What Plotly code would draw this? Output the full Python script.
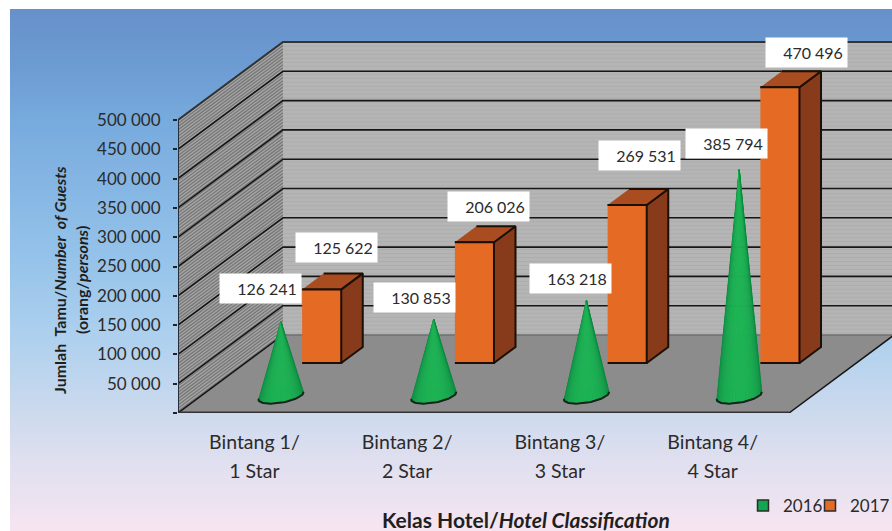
import numpy as np
import plotly.graph_objects as go

# ---------- data ----------
categories_id = ["Bintang 1/", "Bintang 2/", "Bintang 3/", "Bintang 4/"]
categories_en = ["1 Star", "2 Star", "3 Star", "4 Star"]
values_2016 = [126241, 130853, 163218, 385794]
values_2017 = [125622, 206026, 269531, 470496]
y_ticks = [0, 50000, 100000, 150000, 200000, 250000, 300000, 350000, 400000, 450000, 500000]
y_tick_labels = ["", "50 000", "100 000", "150 000", "200 000", "250 000", "300 000",
                 "350 000", "400 000", "450 000", "500 000"]

# ---------- geometry of the oblique view ----------
W, H = 892, 531
ML, MT, MB = 178, 10, 118
PX_CAT = 152.75
PX_VAL = 29.3 / 50000
DX = 105 / PX_CAT          # x shift (category units) of the full floor depth
DY = 78 / PX_VAL           # y shift (value units) of the full floor depth
Y_MAX = (H - MT - MB) / PX_VAL
X_MIN, X_MAX = -0.5, -0.5 + (W - ML) / PX_CAT
FONT = "Lato"
TXT = "#2b2b2b"


def P(c, v, d):
    return c + d * DX, v + d * DY


def poly(points):
    xs, ys = [], []
    for c, v, d in points:
        x, y = P(c, v, d)
        xs.append(x)
        ys.append(y)
    return xs, ys


def multi(polys):
    xs, ys = [], []
    for p in polys:
        x, y = poly(p)
        xs += x + [None]
        ys += y + [None]
    return xs, ys


fig = go.Figure()


def fill(polys, color, line_color=None, line_width=0):
    x, y = multi(polys)
    fig.add_trace(go.Scatter(x=x, y=y, mode="lines", fill="toself", fillcolor=color,
                             line=dict(color=line_color or color, width=line_width),
                             hoverinfo="skip", showlegend=False))


def lines(polys, color, width):
    x, y = multi(polys)
    fig.add_trace(go.Scatter(x=x, y=y, mode="lines", line=dict(color=color, width=width),
                             hoverinfo="skip", showlegend=False))


L, R, TOP = -0.5, 3.5, y_ticks[-1]

# walls and floor
fill([[(L, 0, 0), (L, 0, 1), (L, TOP, 1), (L, TOP, 0)]], "#a6a6a6")
lines([[(L, s, 0), (L, s, 1)] for s in np.arange(2700, TOP, 5460)], "#777777", 1.3)

fill([[(L, 0, 1), (R, 0, 1), (R, TOP, 1), (L, TOP, 1)]], "#b5b5b5")
lines([[(L, v, 1), (R, v, 1)] for v in np.arange(3000, TOP, 6800)], "#adadad", 1)

fill([[(L, 0, 0), (R, 0, 0), (R, 0, 1), (L, 0, 1)]], "#8c8c8c")
lines([[(L, 0, 1), (R, 0, 1)]], "#6f6f6f", 1.5)

# gridlines
for v in y_ticks[1:]:
    lines([[(L, v, 0), (L, v, 1), (R, v, 1)]], "#333333" if v == TOP else "#161616", 2 if v == TOP else 1.6)
lines([[(L, 0, 0), (L, 0, 1)]], "#161616", 1.5)
lines([[(R, 0, 0), (R, 0, 1)]], "#161616", 1.5)
lines([[(L, 0, 0), (R, 0, 0)]], "#333333", 3)
lines([[(L, 0, 0), (L, TOP, 0)]], "#26303c", 2)

# bars (2017)
BAR_HALF = 0.128
BAR_OFF = 0.0
D0, D1 = 0.641, 0.846
OUT = "#1c1006"
fill([[(i + BAR_OFF + BAR_HALF, 0, D0), (i + BAR_OFF + BAR_HALF, 0, D1),
       (i + BAR_OFF + BAR_HALF, v, D1), (i + BAR_OFF + BAR_HALF, v, D0)]
      for i, v in enumerate(values_2017)], "#873B1B", OUT, 2)
fill([[(i + BAR_OFF - BAR_HALF, v, D0), (i + BAR_OFF + BAR_HALF, v, D0),
       (i + BAR_OFF + BAR_HALF, v, D1), (i + BAR_OFF - BAR_HALF, v, D1)]
      for i, v in enumerate(values_2017)], "#A94D20", OUT, 2)
fill([[(i + BAR_OFF - BAR_HALF, 0, D0), (i + BAR_OFF + BAR_HALF, 0, D0),
       (i + BAR_OFF + BAR_HALF, v, D0), (i + BAR_OFF - BAR_HALF, v, D0)]
      for i, v in enumerate(values_2017)], "#E56A24", OUT, 2)

# cones (2016)
CD = 0.22
C_OFF = 0.023
CR, CDR = 0.131, 0.10
t_full = np.linspace(0, 2 * np.pi, 61)


def base_pt(i, t):
    return (i + C_OFF + CR * np.cos(t), 0, CD + CDR * np.sin(t))


fill([[base_pt(i, t) for t in t_full] for i in range(4)], "#0b7d3c", "#14201a", 1)
N = 22
t0 = np.radians(207)
edges = t0 + np.linspace(0, np.pi, N + 1)
dark, bright = np.array([10, 132, 62]), np.array([30, 180, 85])
for k in range(N):
    f = np.sin(np.pi * (k + 0.5) / N) ** 0.8
    col = dark + (bright - dark) * f
    color = "rgb(%d,%d,%d)" % tuple(col)
    tris = [[base_pt(i, edges[k]), base_pt(i, edges[k + 1]), (i + C_OFF, v, CD)] for i, v in enumerate(values_2016)]
    fill(tris, color, color, 1)
lines([[base_pt(i, t) for t in np.linspace(t0 - 0.05, t0 + np.pi + 0.05, 40)] for i in range(4)], "#14261c", 2)

# legend entries
fig.add_trace(go.Scatter(x=[None], y=[None], mode="markers", name="2016", legend="legend",
                         marker=dict(symbol="square", size=11, color="#11A650", line=dict(color="#2b2b2b", width=1.5))))
fig.add_trace(go.Scatter(x=[None], y=[None], mode="markers", name="2017", legend="legend2",
                         marker=dict(symbol="square", size=11, color="#E56A24", line=dict(color="#2b2b2b", width=1.5))))
# carrier for the second line of category labels
fig.add_trace(go.Scatter(x=[None], y=[None], xaxis="x2", yaxis="y", hoverinfo="skip", showlegend=False))

# value labels
ann = []
cone_shift = [(-19.5, 33.5), (-18.5, 21.5), (-14.5, 21.5), (-11.5, 26.5)]
bar_shift = [(35.5, 42), (34.5, 36), (32.5, 50), (47.5, 35)]


def fmt(v):
    s = str(v)
    return s[:-3] + " " + s[-3:]


for i, v in enumerate(values_2016):
    x, y = P(i + C_OFF, v, CD)
    ann.append(dict(x=x, y=y, text=fmt(v) + "&nbsp;", xshift=cone_shift[i][0] - 1, yshift=cone_shift[i][1]))
for i, v in enumerate(values_2017):
    x, y = P(i - BAR_HALF, v, D0)
    ann.append(dict(x=x, y=y, text=fmt(v) + "&nbsp;", xshift=bar_shift[i][0] - 1, yshift=bar_shift[i][1]))
for a in ann:
    a.update(xref="x", yref="y", showarrow=False, bgcolor="white", width=81, height=29, align="right",
             borderpad=0, font=dict(family=FONT, size=16, color=TXT))

plot_w, plot_h = W - ML, H - MT - MB
px = lambda p: (p - ML) / plot_w
py = lambda p: (H - MB - p) / plot_h

ann.append(dict(xref="paper", yref="paper", x=px(526), y=py(519), showarrow=False, xanchor="center", yanchor="middle",
                text="<b>Kelas Hotel/<i>Hotel Classification</i></b>", font=dict(family=FONT, size=21, color="#1f1f1f")))
ann.append(dict(xref="paper", yref="paper", x=px(59), y=py(280), showarrow=False, textangle=-90,
                xanchor="center", yanchor="middle",
                text="<b>Jumlah  Tamu/<i>Number  of Guests</i></b>", font=dict(family=FONT, size=16, color="#1f1f1f")))
ann.append(dict(xref="paper", yref="paper", x=px(81), y=py(280), showarrow=False, textangle=-90,
                xanchor="center", yanchor="middle",
                text="<b>(orang/<i>persons</i>)</b>", font=dict(family=FONT, size=16, color="#1f1f1f")))

# page background gradient
stops_y = [9, 60, 120, 250, 330, 400, 460, 531]
stops_r = [104, 108, 120, 148, 172, 200, 224, 248]
stops_g = [145, 155, 171, 194, 208, 217, 224, 230]
stops_b = [203, 210, 222, 234, 238, 238, 240, 240]
shapes = [dict(type="rect", xref="paper", yref="paper", layer="below", line=dict(width=0),
               x0=px(10), x1=1, y0=py(p + 3), y1=py(p),
               fillcolor="rgb(%d,%d,%d)" % (np.interp(p, stops_y, stops_r), np.interp(p, stops_y, stops_g),
                                            np.interp(p, stops_y, stops_b)))
          for p in range(9, 531, 3)]

legend_common = dict(xref="paper", yref="paper", xanchor="left", y=py(506), yanchor="middle",
                     bgcolor="rgba(0,0,0,0)", font=dict(family=FONT, size=17, color=TXT), itemwidth=30)

fig.update_layout(
    width=W, height=H, margin=dict(l=ML, r=0, t=MT, b=MB, pad=0, autoexpand=False),
    paper_bgcolor="white", plot_bgcolor="rgba(0,0,0,0)",
    shapes=shapes, annotations=ann,
    font=dict(family=FONT, color=TXT),
    legend=dict(x=px(743), **legend_common),
    legend2=dict(x=px(810), **legend_common),
    xaxis=dict(range=[X_MIN, X_MAX], tickmode="array", tickvals=[0, 1, 2, 3], ticktext=categories_id,
               showgrid=False, zeroline=False, showline=False, ticks="", ticklabelstandoff=15,
               tickfont=dict(family=FONT, size=19.5, color=TXT)),
    xaxis2=dict(range=[X_MIN, X_MAX], overlaying="x", anchor="y", side="bottom", tickmode="array",
                tickvals=[0, 1, 2, 3], ticktext=categories_en,
                showgrid=False, zeroline=False, showline=False, ticks="", ticklabelstandoff=44,
                tickfont=dict(family=FONT, size=19.5, color=TXT)),
    yaxis=dict(range=[0, Y_MAX], tickmode="array", tickvals=y_ticks, ticktext=y_tick_labels,
               showgrid=False, zeroline=False, showline=False, ticks="outside", ticklen=4, tickwidth=2,
               tickcolor="#222222", ticklabelstandoff=9, tickfont=dict(family=FONT, size=17, color=TXT)),
)

fig.write_html("out.html", config=dict(displayModeBar=False),
               post_script="document.body.style.margin='0';document.body.style.overflow='hidden';")
